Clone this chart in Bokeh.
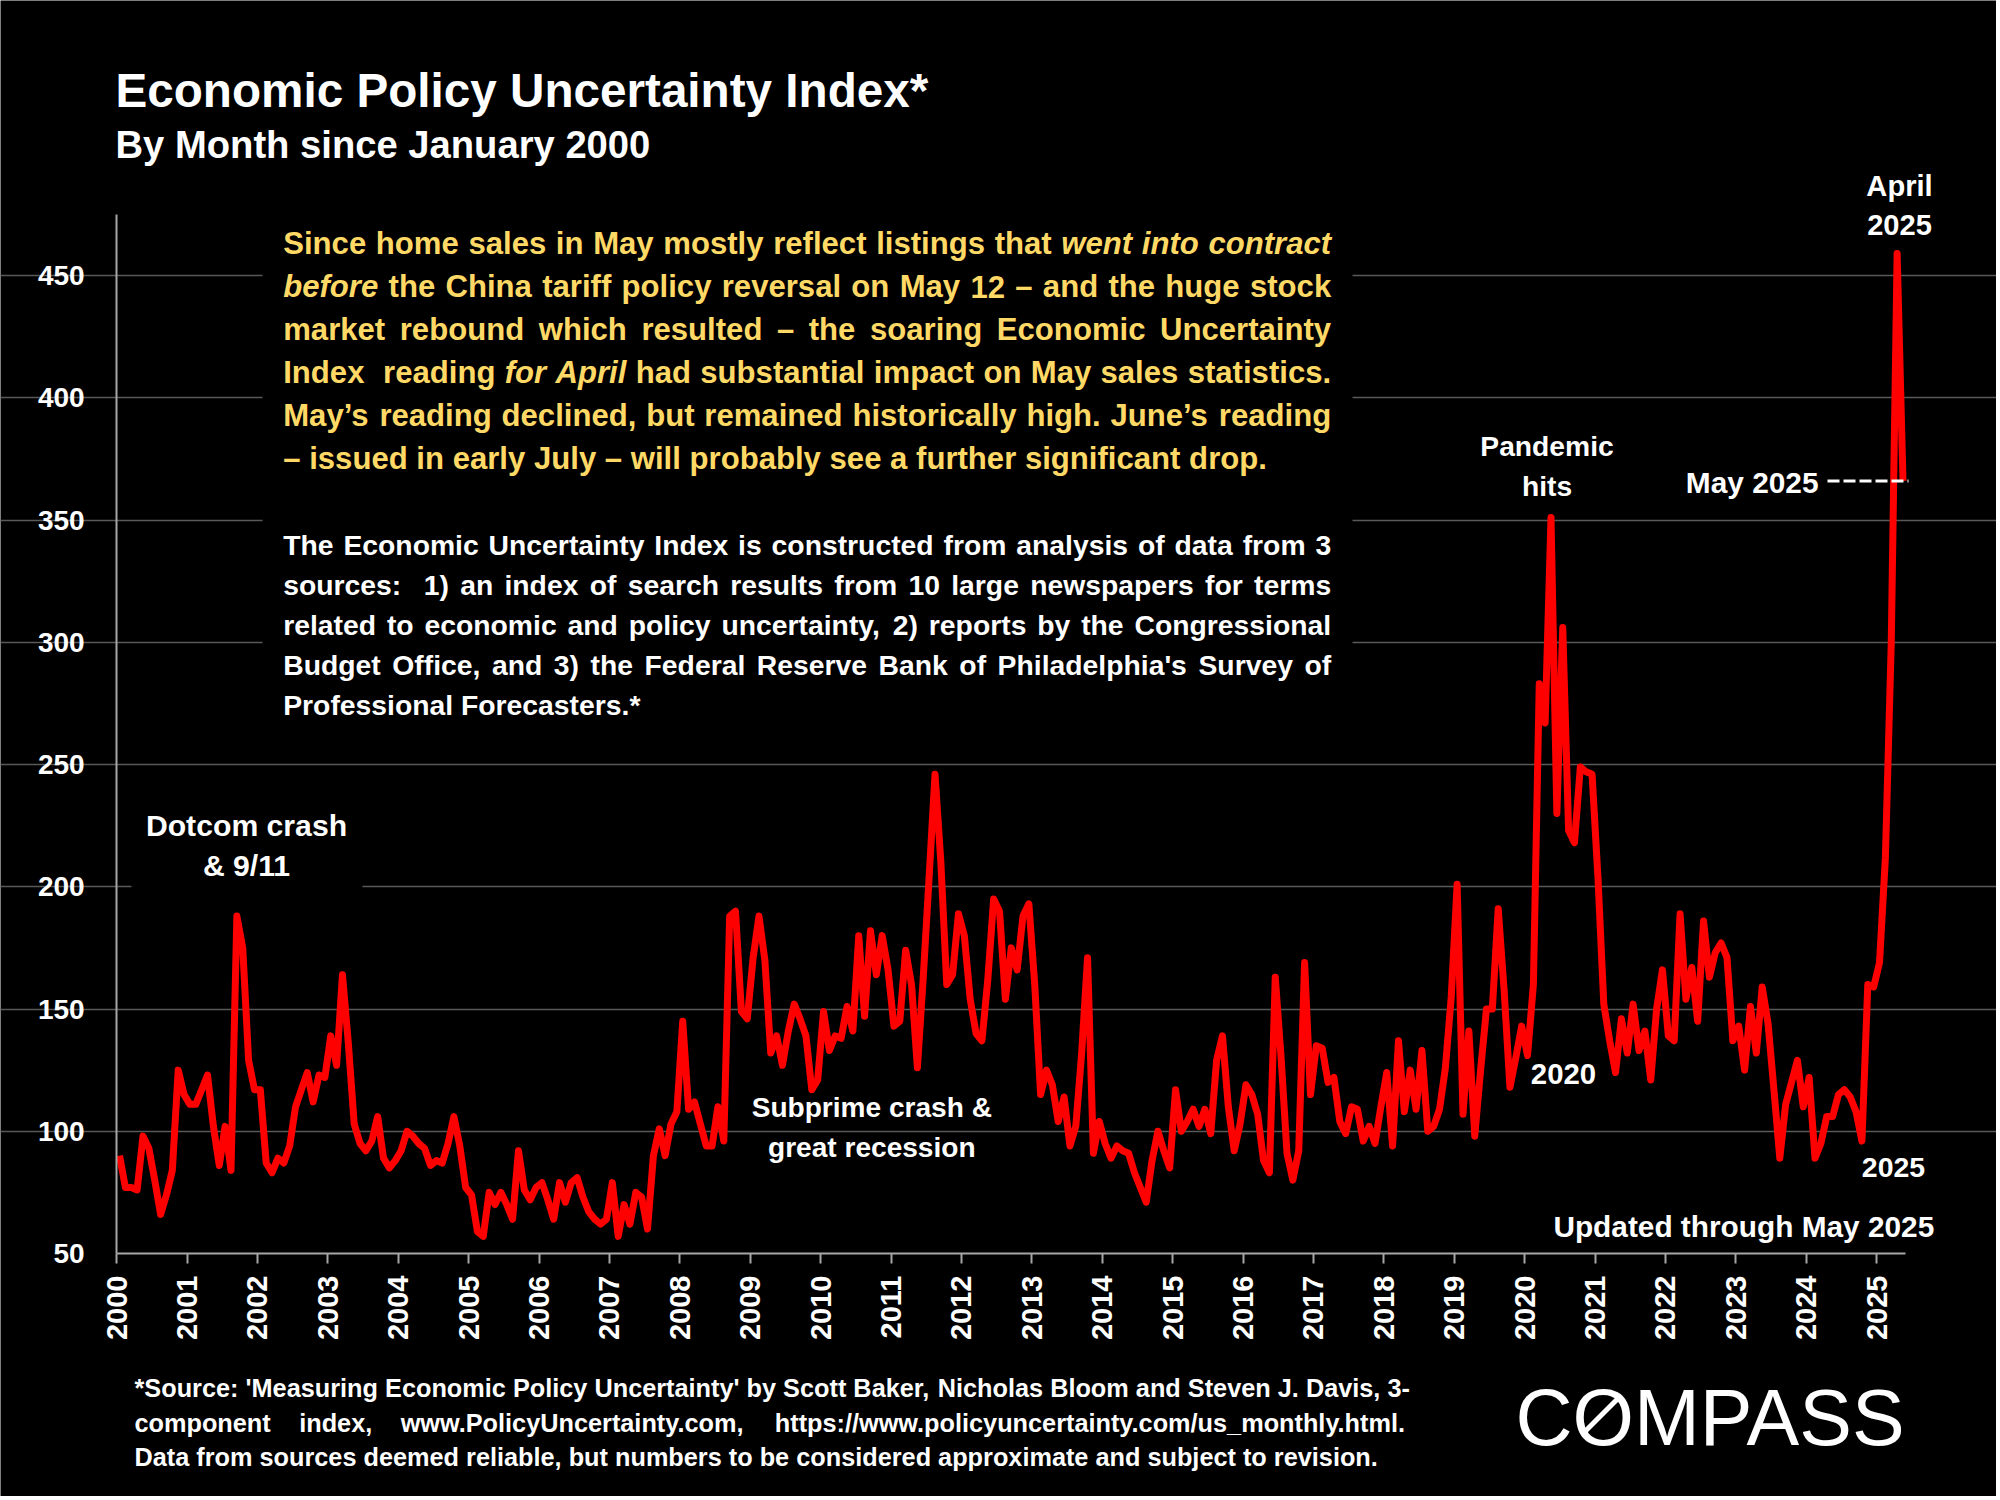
import math
from bokeh.plotting import figure
from bokeh.models import Range1d, FixedTicker, Label, BoxAnnotation, Arrow
from bokeh.embed import file_html
from bokeh.resources import INLINE

# ---------------- data (monthly index values) ----------------
v2000 = [90, 77, 77, 76, 98, 93, 80, 66, 74, 84, 125, 115]
v2001 = [111, 111, 117, 123, 102, 86, 102, 84, 188, 175, 129, 117]
v2002 = [117, 87, 83, 89, 87, 94, 110, 117, 124, 112, 123, 122]
v2003 = [139, 127, 164, 136, 103, 95, 92, 96, 106, 89, 85, 88]
v2004 = [92, 100, 98, 95, 93, 86, 88, 87, 95, 106, 94, 77]
v2005 = [74, 59, 57, 75, 70, 75, 70, 64, 92, 76, 72, 77]
v2006 = [79, 72, 64, 79, 71, 79, 81, 73, 67, 64, 62, 64]
v2007 = [79, 57, 70, 62, 75, 73, 60, 90, 101, 90, 103, 108]
v2008 = [145, 109, 112, 103, 94, 94, 110, 96, 188, 190, 149, 146]
v2009 = [171, 188, 170, 132, 139, 127, 141, 152, 146, 139, 117, 121]
v2010 = [149, 133, 139, 138, 151, 141, 180, 147, 182, 164, 180, 166]
v2011 = [143, 145, 174, 160, 126, 163, 204, 246, 210, 160, 164, 189]
v2012 = [180, 154, 140, 137, 162, 195, 190, 154, 175, 166, 188, 193]
v2013 = [160, 115, 125, 119, 104, 114, 94, 102, 132, 171, 91, 104]
v2014 = [95, 89, 94, 92, 91, 83, 77, 71, 88, 100, 92, 85]
v2015 = [117, 100, 104, 109, 102, 109, 99, 129, 139, 110, 92, 103]
v2016 = [119, 115, 107, 88, 83, 163, 130, 91, 80, 92, 169, 115]
v2017 = [135, 134, 120, 122, 104, 99, 110, 109, 96, 102, 95, 110]
v2018 = [124, 94, 137, 108, 125, 109, 133, 100, 102, 109, 126, 155]
v2019 = [201, 107, 141, 98, 125, 150, 150, 191, 158, 118, 130, 143]
v2020 = [131, 160, 283, 267, 351, 230, 306, 223, 218, 249, 247, 246]
v2021 = [204, 152, 137, 124, 146, 132, 152, 133, 141, 121, 150, 166]
v2022 = [139, 137, 189, 154, 167, 145, 186, 163, 173, 177, 171, 137]
v2023 = [143, 125, 151, 132, 159, 144, 117, 89, 111, 120, 129, 110]
v2024 = [122, 89, 95, 106, 106, 115, 117, 114, 108, 96, 160, 159]
v2025 = [169, 212, 300, 459, 366]

start_year = 2000
year_ticks = list(range(2000, 2026))
year_labels = [str(y) for y in year_ticks]
value_ticks = [50, 100, 150, 200, 250, 300, 350, 400, 450]
value_labels = [str(v) for v in value_ticks]
value_top = 475

epu = [v for yr in (v2000, v2001, v2002, v2003, v2004, v2005, v2006, v2007, v2008,
                    v2009, v2010, v2011, v2012, v2013, v2014, v2015, v2016, v2017,
                    v2018, v2019, v2020, v2021, v2022, v2023, v2024, v2025) for v in yr]
month_x = [start_year + (i + 0.5) / 12.0 for i in range(len(epu))]
x_axis_end = start_year + len(epu) / 12.0

# ---------------- texts ----------------
title_text = "Economic Policy Uncertainty Index*"
subtitle_text = "By Month since January 2000"
note_yellow = [
    "Since home sales in May mostly reflect listings that {went into contract}",
    "{before} the China tariff policy reversal on May 12 \u2013 and the huge stock",
    "market rebound which resulted \u2013 the soaring Economic Uncertainty",
    "Index  reading {for April} had substantial impact on May sales statistics.",
    "May\u2019s reading declined, but remained historically high. June\u2019s reading",
    "\u2013 issued in early July \u2013 will probably see a further significant drop.",
]
note_white = [
    "The Economic Uncertainty Index is constructed from analysis of data from 3",
    "sources:  1) an index of search results from 10 large newspapers for terms",
    "related to economic and policy uncertainty, 2) reports by the Congressional",
    "Budget Office, and 3) the Federal Reserve Bank of Philadelphia's Survey of",
    "Professional Forecasters.*",
]
footnote = [
    "*Source: 'Measuring Economic Policy Uncertainty' by Scott Baker, Nicholas Bloom and Steven J. Davis, 3-",
    "component  index,  www.PolicyUncertainty.com,  https://www.policyuncertainty.com/us_monthly.html.",
    "Data from sources deemed reliable, but numbers to be considered approximate and subject to revision.",
]

# ---------------- figure: the frame covers the whole canvas, axes sit at fixed locations ----------------
FONT = "Liberation Sans"
W, H = 1996, 1496
XS0, PXY = 116.1, 70.40        # page x of the axis start (Jan 2000), pixels per year
Y50, PXU = 1253.0, 2.445       # page y of value 50, pixels per index unit

xr0 = start_year - XS0 / PXY
xr1 = xr0 + W / PXY
yr1 = 50 + Y50 / PXU
yr0 = yr1 - H / PXU

p = figure(width=W, height=H, output_backend="svg", toolbar_location=None,
           x_range=Range1d(xr0, xr1), y_range=Range1d(yr0, yr1), min_border=0,
           background_fill_color="black", border_fill_color="black",
           outline_line_color=None)


def px2x(X):
    return start_year + (X - XS0) / PXY


def px2y(Y):
    return 50 + (Y50 - Y) / PXU


AX = "#a6a6a6"
p.xaxis.fixed_location = value_ticks[0]
p.xaxis.bounds = (start_year, x_axis_end)
p.xaxis.ticker = FixedTicker(ticks=year_ticks)
p.xaxis.major_label_overrides = dict(zip(year_ticks, year_labels))
p.xaxis.major_label_orientation = math.pi / 2
p.xaxis.major_label_text_font = FONT
p.xaxis.major_label_text_font_style = "bold"
p.xaxis.major_label_text_font_size = "29px"
p.xaxis.major_label_text_color = "white"
p.xaxis.major_label_standoff = 12
p.xaxis.major_tick_out = 10
p.xaxis.major_tick_in = 0
p.xaxis.minor_tick_out = 0
p.xaxis.minor_tick_in = 0
p.xaxis.axis_line_color = AX
p.xaxis.axis_line_width = 2
p.xaxis.major_tick_line_color = AX
p.xaxis.major_tick_line_width = 2

p.yaxis.fixed_location = start_year
p.yaxis.bounds = (value_ticks[0], value_top)
p.yaxis.ticker = FixedTicker(ticks=value_ticks)
p.yaxis.major_label_overrides = dict(zip(value_ticks, value_labels))
p.yaxis.major_label_text_font = FONT
p.yaxis.major_label_text_font_style = "bold"
p.yaxis.major_label_text_font_size = "28px"
p.yaxis.major_label_text_color = "white"
p.yaxis.major_label_standoff = 32
p.yaxis.major_tick_out = 0
p.yaxis.major_tick_in = 0
p.yaxis.minor_tick_out = 0
p.yaxis.minor_tick_in = 0
p.yaxis.axis_line_color = AX
p.yaxis.axis_line_width = 2

p.xgrid.grid_line_color = None
p.ygrid.ticker = FixedTicker(ticks=value_ticks[1:])
p.ygrid.bounds = (start_year, x_axis_end)
p.ygrid.grid_line_color = "#595959"
p.ygrid.grid_line_width = 1.5

# black backgrounds of the text boxes (hide the grid lines behind them)
p.add_layout(BoxAnnotation(left=px2x(262), right=px2x(1352), top=px2y(215), bottom=px2y(738),
                           fill_color="black", fill_alpha=1, line_color=None, level="underlay"))
p.add_layout(BoxAnnotation(left=px2x(131), right=px2x(362), top=px2y(795), bottom=px2y(896),
                           fill_color="black", fill_alpha=1, line_color=None, level="underlay"))

# the series
p.line(month_x, epu, line_color="#FF0000", line_width=7, line_join="round")

# May 2025 dashed marker
p.segment(x0=[px2x(1827)], y0=[epu[-1]], x1=[px2x(1908)], y1=[epu[-1]],
          line_color="white", line_width=3, line_dash="12 4")

# ---------------- text helpers (Liberation Sans Bold = Arial Bold metrics) ----------------
HB = {' ': 278, '!': 333, '"': 474, '#': 556, '$': 556, '%': 889, '&': 722, "'": 238,
      '(': 333, ')': 333, '*': 389, '+': 584, ',': 278, '-': 333, '.': 278, '/': 278,
      ':': 333, ';': 333, '<': 584, '=': 584, '>': 584, '?': 611, '@': 975, '[': 333,
      '\\': 278, ']': 333, '_': 556, '\u2013': 556, '\u2019': 278, '\u2018': 278,
      'A': 722, 'B': 722, 'C': 722, 'D': 722, 'E': 667, 'F': 611, 'G': 778, 'H': 722,
      'I': 278, 'J': 556, 'K': 722, 'L': 611, 'M': 833, 'N': 722, 'O': 778, 'P': 667,
      'Q': 778, 'R': 722, 'S': 667, 'T': 611, 'U': 722, 'V': 667, 'W': 944, 'X': 667,
      'Y': 667, 'Z': 611,
      'a': 556, 'b': 611, 'c': 556, 'd': 611, 'e': 556, 'f': 333, 'g': 611, 'h': 611,
      'i': 278, 'j': 278, 'k': 556, 'l': 278, 'm': 889, 'n': 611, 'o': 611, 'p': 611,
      'q': 611, 'r': 389, 's': 556, 't': 333, 'u': 611, 'v': 556, 'w': 778, 'x': 556,
      'y': 556, 'z': 500}
HR = {'C': 722, 'O': 778, 'M': 833, 'P': 667, 'A': 667, 'S': 667}
BASE_SHIFT = 0.3465   # measured: text renders this many em below its anchor


def em(s, table=HB):
    return sum(table.get(c, 556) for c in s) / 1000.0


def label(text, X, Y, size, color="white", align="left", style="bold", font=FONT):
    p.add_layout(Label(x=px2x(X), y=px2y(Y - BASE_SHIFT * size), text=text, text_font=font,
                       text_font_style=style, text_font_size="%.2fpx" % size,
                       text_color=color, text_align=align, text_baseline="alphabetic"))


def plain(line):
    return line.replace("{", "").replace("}", "")


def tokens_of(line):
    toks, ital = [], False
    for raw in line.split(" "):
        w = raw
        if w.startswith("{"):
            ital = True
            w = w[1:]
        it = ital
        if w.endswith("}"):
            w = w[:-1]
            ital = False
        toks.append((w, it))
    return toks


def paragraph(lines, left, right, last_right, base0, pitch, color):
    size = (last_right - left) / em(plain(lines[-1]))
    for l in lines[:-1]:
        size = min(size, (right - left) / em(plain(l)))
    sp = em(" ") * size
    for k, line in enumerate(lines):
        base = base0 + k * pitch
        if k == len(lines) - 1:
            label(plain(line), left, base, size, color)
            continue
        toks = tokens_of(line)
        nat = sum(em(w) for w, _ in toks) * size + (len(toks) - 1) * sp
        gap = sp + (right - left - nat) / (len(toks) - 1)
        xx = left
        for w, it in toks:
            if w:
                label(w, xx, base, size, color, style="bold italic" if it else "bold")
            xx += em(w) * size + gap


def callout(lines, widths, cx, bases, align="center"):
    size = sum(wd / em(t) for t, wd in zip(lines, widths)) / len(lines)
    for t, b in zip(lines, bases):
        label(t, cx, b, size, "white", align=align)


# title & subtitle
label(title_text, 115, 107, 813 / em(title_text))
label(subtitle_text, 115, 157, 535 / em(subtitle_text))

# paragraphs
paragraph(note_yellow, 282.7, 1330.7, 1266.7, 254.0, 43.0, "#FFD966")
paragraph(note_white, 282.7, 1330.7, 640.0, 554.6, 39.9, "white")
paragraph(footnote, 134.0, 1409.4, 1385.0, 1396.7, 34.2, "white")

# callouts
callout(["Dotcom crash", "& 9/11"], [187.5, 95.0], 246, [835, 875])
callout(["Pandemic", "hits"], [134.0, 50.0], 1546.5, [455.5, 495])
callout(["April", "2025"], [66.0, 65.0], 1899, [196, 235])
callout(["May 2025"], [132.7], 1818, [492], align="right")
callout(["2020"], [65.3], 1563, [1084])
callout(["2025"], [63.3], 1893, [1176.5])
callout(["Updated through May 2025"], [381.0], 1743.3, [1236])
callout(["Subprime crash &", "great recession"], [242.7, 205.7], 871.3, [1116.7, 1156.7])

# logo
logo = "COMPASS"
logo_size = 79.0
logo_cx, logo_base = 1709.5, 1444
label(logo, logo_cx, logo_base, logo_size, "white", align="center", style="normal")
o_left = logo_cx - em(logo, HR) * logo_size / 2 + 0.722 * logo_size
ocx = o_left + 0.778 * logo_size / 2
ocy = logo_base - 0.716 * logo_size / 2
p.add_layout(Arrow(end=None, x_start=px2x(ocx - 17), y_start=px2y(ocy + 17),
                   x_end=px2x(ocx + 17), y_end=px2y(ocy - 17),
                   line_color="white", line_width=5))

open("out.html", "w").write(file_html(p, INLINE))
